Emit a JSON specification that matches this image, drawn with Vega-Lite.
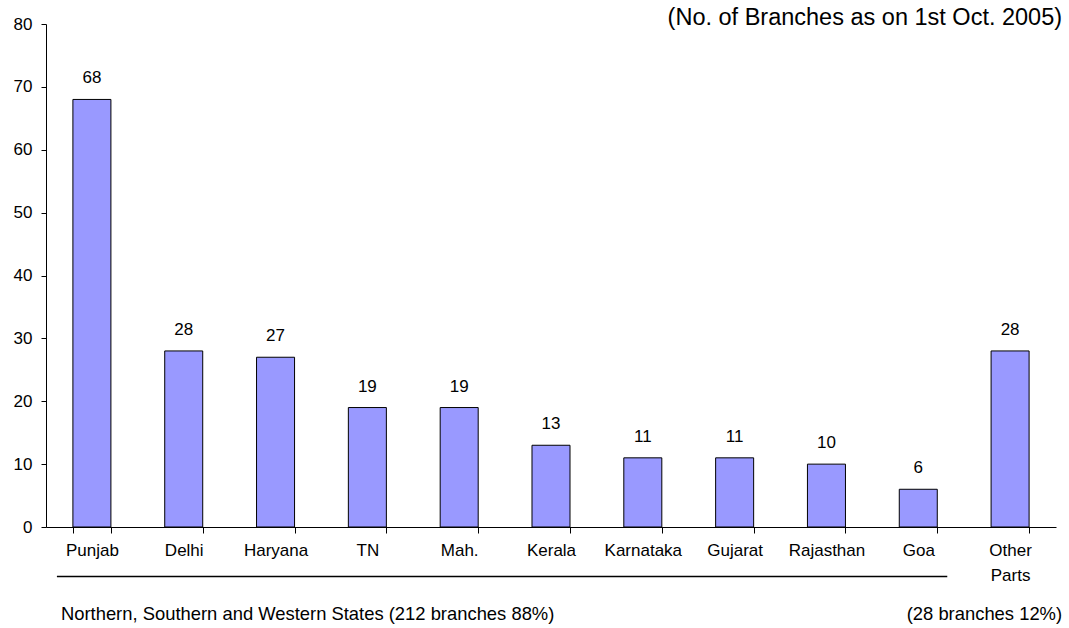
{
  "$schema": "https://vega.github.io/schema/vega-lite/v6.json",
  "width": 1010,
  "height": 503,
  "autosize": {"type": "none"},
  "padding": {"left": 46, "top": 24, "right": 13, "bottom": 101},
  "background": "white",
  "config": {
    "view": {"stroke": null},
    "font": "Liberation Sans",
    "axis": {"labelFont": "Liberation Sans", "labelColor": "black", "domainColor": "black", "tickColor": "black", "grid": false, "title": null}
  },
  "datasets": {
    "branches": [
      {"state": "Punjab", "branches": 68},
      {"state": "Delhi", "branches": 28},
      {"state": "Haryana", "branches": 27},
      {"state": "TN", "branches": 19},
      {"state": "Mah.", "branches": 19},
      {"state": "Kerala", "branches": 13},
      {"state": "Karnataka", "branches": 11},
      {"state": "Gujarat", "branches": 11},
      {"state": "Rajasthan", "branches": 10},
      {"state": "Goa", "branches": 6},
      {"state": "Other Parts", "branches": 28}
    ],
    "group_line": [
      {"from": "Punjab", "to": "Goa", "level": -7.86}
    ],
    "title_note": [
      {"state": "Other Parts", "level": 80, "note": "(No. of Branches as on 1st Oct. 2005)"}
    ],
    "left_note": [
      {"state": "Punjab", "level": -14.75, "note": "Northern, Southern and Western States (212 branches 88%)"}
    ],
    "right_note": [
      {"state": "Other Parts", "level": -14.75, "note": "(28 branches 12%)"}
    ]
  },
  "layer": [
    {
      "data": {"name": "branches"},
      "mark": {"type": "bar", "fill": "#9999FF", "stroke": "black", "strokeWidth": 1},
      "encoding": {
        "x": {
          "field": "state",
          "type": "nominal",
          "sort": null,
          "scale": {"paddingInner": 0.586, "paddingOuter": 0.293},
          "axis": {
            "labelAngle": 0,
            "labelFontSize": 17,
            "labelPadding": 9,
            "tickSize": 6,
            "tickBand": "extent",
            "labelLineHeight": 25,
            "labelBaseline": "top",
            "labelExpr": "datum.label == 'Other Parts' ? ['Other', 'Parts'] : datum.label"
          }
        },
        "y": {
          "field": "branches",
          "type": "quantitative",
          "scale": {"domain": [0, 80], "nice": false},
          "axis": {"values": [0, 10, 20, 30, 40, 50, 60, 70, 80], "labelFontSize": 17, "tickSize": 5, "labelPadding": 9}
        }
      }
    },
    {
      "data": {"name": "branches"},
      "mark": {"type": "text", "fontSize": 17, "color": "black", "baseline": "alphabetic", "dy": -16},
      "encoding": {
        "x": {"field": "state", "type": "nominal", "sort": null},
        "y": {"field": "branches", "type": "quantitative"},
        "text": {"field": "branches", "type": "quantitative"}
      }
    },
    {
      "data": {"name": "group_line"},
      "mark": {"type": "rule", "color": "black", "strokeWidth": 1.5, "xOffset": -35, "x2Offset": 29, "clip": false},
      "encoding": {
        "x": {"field": "from", "type": "nominal", "sort": null},
        "x2": {"field": "to"},
        "y": {"field": "level", "type": "quantitative"}
      }
    },
    {
      "data": {"name": "title_note"},
      "mark": {"type": "text", "fontSize": 23.5, "color": "black", "align": "right", "baseline": "alphabetic", "dx": 52, "dy": 1},
      "encoding": {
        "x": {"field": "state", "type": "nominal", "sort": null},
        "y": {"field": "level", "type": "quantitative"},
        "text": {"field": "note"}
      }
    },
    {
      "data": {"name": "left_note"},
      "mark": {"type": "text", "fontSize": 18.4, "color": "black", "align": "left", "baseline": "alphabetic", "dx": -31},
      "encoding": {
        "x": {"field": "state", "type": "nominal", "sort": null},
        "y": {"field": "level", "type": "quantitative"},
        "text": {"field": "note"}
      }
    },
    {
      "data": {"name": "right_note"},
      "mark": {"type": "text", "fontSize": 18.4, "color": "black", "align": "right", "baseline": "alphabetic", "dx": 52},
      "encoding": {
        "x": {"field": "state", "type": "nominal", "sort": null},
        "y": {"field": "level", "type": "quantitative"},
        "text": {"field": "note"}
      }
    }
  ]
}
